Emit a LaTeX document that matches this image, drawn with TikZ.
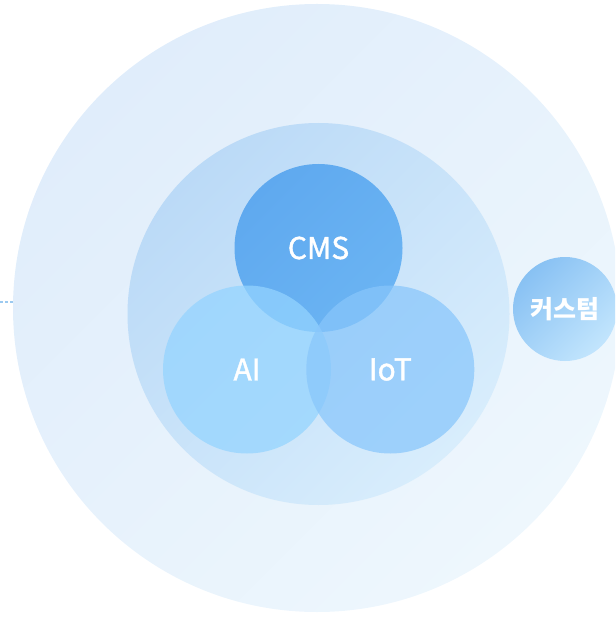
\documentclass[tikz,border=0pt]{standalone}
\usepackage{fontspec}
\newfontfamily\kr[FakeBold=1.3]{Noto Sans CJK KR}
\newfontfamily\krb{Noto Sans CJK KR}
\definecolor{outerA}{HTML}{E0EDFB}
\definecolor{outerB}{HTML}{EEF7FD}
\definecolor{innerA}{HTML}{BBDAF7}
\definecolor{innerB}{HTML}{D8EDFC}
\definecolor{cmsA}{HTML}{5FA9EF}
\definecolor{cmsB}{HTML}{6BB4F3}
\definecolor{aiC}{HTML}{94D4FF}
\definecolor{iotC}{HTML}{88C6FB}
\definecolor{cusA}{HTML}{88C1F3}
\definecolor{cusB}{HTML}{C2E5FD}
\definecolor{dotC}{HTML}{9CCAF0}
\tikzset{
  disc/.style={circle, inner sep=0pt, draw=none, text=white, font=\kr\fontsize{30}{34}\selectfont},
}
\begin{document}
\begin{tikzpicture}[x=1pt,y=-1pt]
\useasboundingbox (0,0) rectangle (615,617);
\clip (0,0) rectangle (615,617);
\node[disc, minimum size=608pt, top color=outerA, bottom color=outerB, shading angle=45] (outer) at (317,308) {};
\node[disc, minimum size=382pt, top color=innerA, bottom color=innerB, shading angle=45] (inner) at (318.5,314) {};
\node[disc, minimum size=168pt, top color=cmsA, bottom color=cmsB, shading angle=45] (cms) at (318.5,248) {CMS};
\node[disc, minimum size=168pt, fill=aiC, fill opacity=0.73, text opacity=1] (ai) at (247,369.5) {AI};
\node[disc, minimum size=168pt, fill=iotC, fill opacity=0.72, text opacity=1] (iot) at (390.3,369.5) {IoT};
\node[disc, minimum size=104pt, top color=cusA, bottom color=cusB, shading angle=45, font=\krb\bfseries\fontsize{25}{28}\selectfont] (custom) at (565,309) {커스텀};
\coordinate (dotstart) at (0,302);
\coordinate (dotend) at (13,302);
\draw[dotC, line width=1.2pt, dash pattern=on 2.5pt off 2.5pt] (dotstart) -- (dotend);
\end{tikzpicture}
\end{document}
